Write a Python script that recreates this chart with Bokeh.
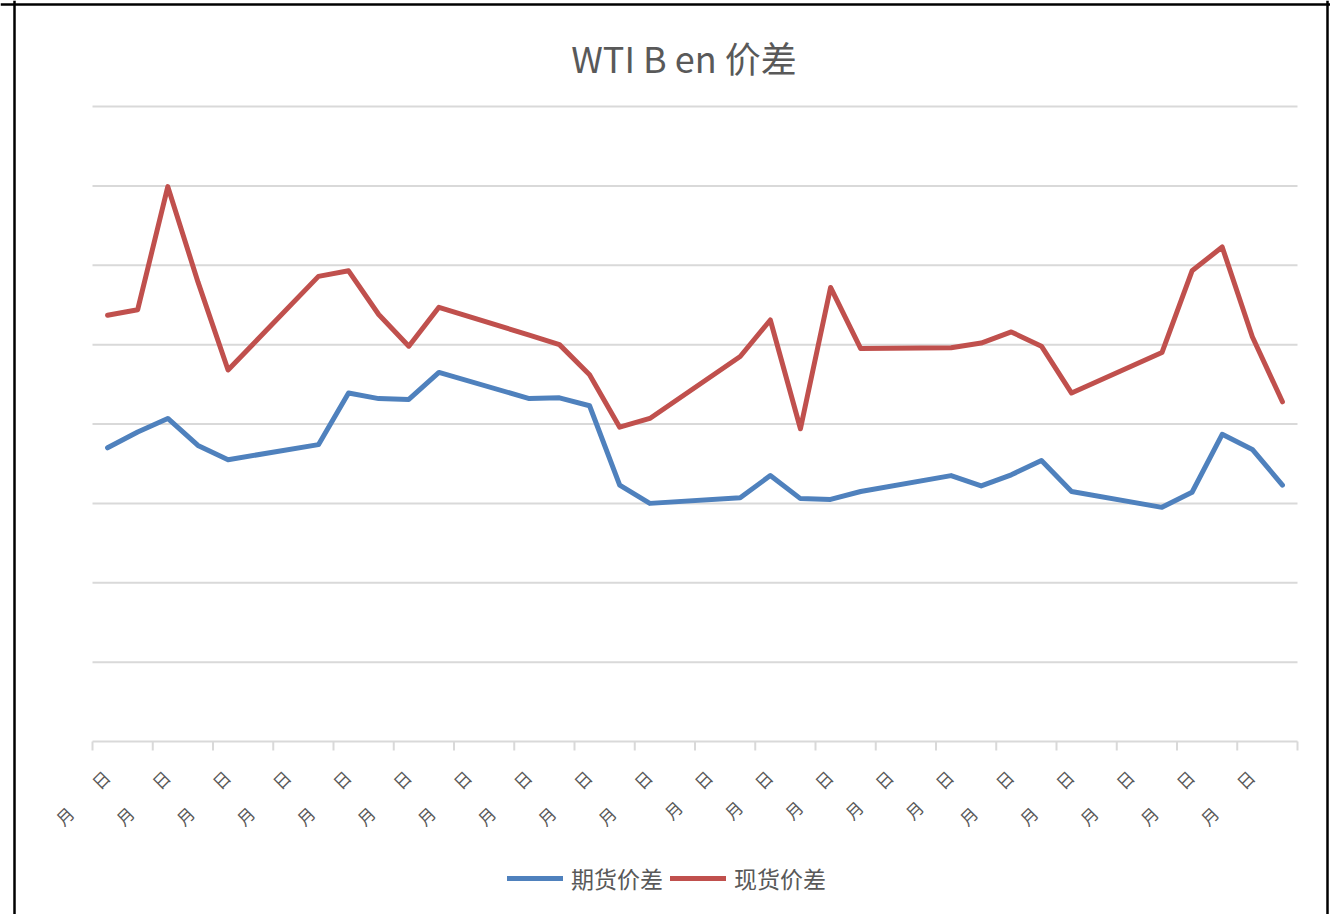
import math
from bokeh.plotting import figure
from bokeh.models import Range1d, Legend, LegendItem, Span
from bokeh.core.properties import value
from bokeh.embed import file_html
from bokeh.resources import INLINE

# ---- data (day index along the date axis; weekends have no data) ----
day_index = [0, 1, 2, 3, 4, 7, 8, 9, 10, 11, 14, 15, 16, 17, 18,
             21, 22, 23, 24, 25, 28, 29, 30, 31, 32, 35, 36, 37, 38, 39]
futures_spread = [3.70, 3.90, 4.07, 3.73, 3.55, 3.74, 4.39, 4.32, 4.31, 4.65,
                  4.32, 4.33, 4.23, 3.23, 3.00, 3.07, 3.35, 3.06, 3.05, 3.15,
                  3.35, 3.22, 3.36, 3.54, 3.15, 2.95, 3.14, 3.87, 3.68, 3.23]
spot_spread = [5.37, 5.44, 6.99, 5.79, 4.68, 5.86, 5.93, 5.38, 4.98, 5.47,
               5.12, 5.00, 4.62, 3.96, 4.07, 4.85, 5.31, 3.94, 5.72, 4.95,
               4.96, 5.02, 5.16, 4.98, 4.39, 4.90, 5.93, 6.23, 5.10, 4.28]
label_positions = list(range(0, 40, 2))
tick_labels = (["月\u3000\u3000日"] * 10 + ["月\u3000\u2002日"] * 5
               + ["月\u3000\u3000日"] * 5)
tick_bounds = [i - 0.5 for i in range(0, 41, 2)]
grid_values = [1, 2, 3, 4, 5, 6, 7, 8]
title_text = "WTI B en 价差"
series_names = ["期货价差", "现货价差"]

FONT = "Noto Sans CJK SC"
GREY = "#595959"
GRID = "#D9D9D9"

# ---- canvas geometry (pixels) -> data helpers ----
W, H = 1330, 914
PX_LEFT, PX_CAT = 92.0, 30.125      # left edge of category axis, px per day
PX_ZERO, PX_UNIT = 741.0, 79.375    # baseline, px per grid unit


def xd(px):
    return -0.5 + (px - PX_LEFT) / PX_CAT


def yd(py):
    return (PX_ZERO - py) / PX_UNIT


p = figure(width=W, height=H, output_backend="svg", toolbar_location=None,
           x_range=Range1d(xd(0), xd(W)), y_range=Range1d(yd(H), yd(0)),
           x_axis_type=None, y_axis_type=None,
           min_border_left=0, min_border_right=0, min_border_top=0,
           min_border_bottom=0)
p.outline_line_color = None
p.background_fill_color = "white"
p.border_fill_color = "white"

# chart border (black frame of the chart object)
for loc, dim in ((xd(14), "height"), (xd(1327), "height"), (yd(4), "width")):
    p.add_layout(Span(location=loc, dimension=dim, line_color="black",
                      line_width=2.5))

# horizontal grid lines
p.segment(x0=-0.5, x1=39.5, y0=grid_values, y1=grid_values,
          line_color=GRID, line_width=2)
# category axis line and tick marks
p.segment(x0=-0.5, x1=39.5, y0=0, y1=0, line_color=GRID, line_width=2)
p.segment(x0=tick_bounds, x1=tick_bounds, y0=0, y1=yd(PX_ZERO + 9),
          line_color=GRID, line_width=2)
# rotated category labels
p.text(x=label_positions, y=[0] * len(label_positions), text=tick_labels,
       angle=math.pi / 4, text_align="right", text_baseline="middle",
       x_offset=-1, y_offset=32, text_font=value(FONT),
       text_font_size="17px", text_color=GREY)

# title
p.text(x=[xd(683.5)], y=[yd(56)], text=[title_text], text_align="center",
       text_baseline="middle", text_font=value(FONT), text_font_size="36px",
       text_color=GREY)

r1 = p.line(day_index, futures_spread, line_color="#4F81BD", line_width=5,
            line_join="round", line_cap="round")
r2 = p.line(day_index, spot_spread, line_color="#C0504D", line_width=5,
            line_join="round", line_cap="round")

legend = Legend(items=[LegendItem(label=series_names[0], renderers=[r1]),
                       LegendItem(label=series_names[1], renderers=[r2])],
                orientation="horizontal", location=(507, H - 895))
legend.label_text_font = FONT
legend.label_text_font_size = "23px"
legend.label_text_color = GREY
legend.label_height = 26
legend.glyph_width = 56
legend.glyph_height = 26
legend.label_standoff = 8
legend.spacing = 7
legend.padding = 0
legend.margin = 0
legend.border_line_color = None
legend.background_fill_alpha = 0
p.add_layout(legend)

open("out.html", "w").write(file_html(p, INLINE))
